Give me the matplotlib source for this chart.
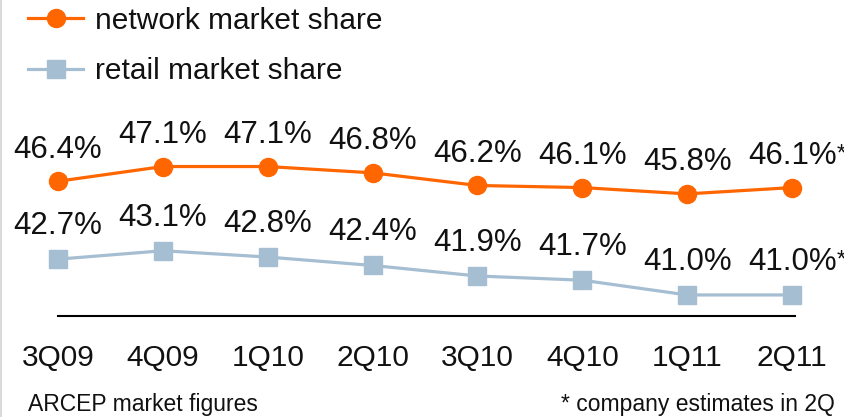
import matplotlib
matplotlib.use("Agg")
import matplotlib.pyplot as plt
from matplotlib.lines import Line2D

quarters = ["3Q09", "4Q09", "1Q10", "2Q10", "3Q10", "4Q10", "1Q11", "2Q11"]
network_share = [46.4, 47.1, 47.1, 46.8, 46.2, 46.1, 45.8, 46.1]
retail_share = [42.7, 43.1, 42.8, 42.4, 41.9, 41.7, 41.0, 41.0]
estimated = [False, False, False, False, False, False, False, True]

ORANGE = "#FF6600"
BLUE = "#A6BED2"
FONT = "Liberation Sans"
plt.rcParams["font.family"] = [FONT, "DejaVu Sans"]

W, H = 845, 417
fig = plt.figure(figsize=(W / 100, H / 100), dpi=100)
# axes placement in pixels
L, R = 5.6, 844.5
B, T = 316, 100
ax = fig.add_axes([L / W, (H - B) / H, (R - L) / W, (B - T) / H])
ax.set_xlim(-0.5, 7.5)
ax.set_ylim(40, 50.26)

x = list(range(len(quarters)))
ax.plot(x, network_share, color=ORANGE, lw=2.3, marker="o", ms=13,
        mec=ORANGE, mfc=ORANGE, clip_on=False, label="network market share")
ax.plot(x, retail_share, color=BLUE, lw=2.3, marker="s", ms=12.5,
        mec=BLUE, mfc=BLUE, clip_on=False, label="retail market share")

for series, off in ((network_share, 17), (retail_share, 18)):
    for i, v in enumerate(series):
        t = ax.annotate(f"{v:.1f}%", xy=(i, v), xytext=(0, off),
                        textcoords="offset points", ha="center", va="baseline",
                        fontsize=22.5, color="#111111")
        if estimated[i]:
            ax.annotate("*", xy=(1, 1), xycoords=t, xytext=(0, -2),
                        textcoords="offset points", ha="left", va="top",
                        fontsize=17, color="#111111")

for s in ("top", "left", "right"):
    ax.spines[s].set_visible(False)
ax.spines["bottom"].set_bounds(0, 7.03)
ax.spines["bottom"].set_linewidth(1.5)
ax.spines["bottom"].set_color("black")
ax.set_yticks([])
ax.set_xticks(x)
ax.set_xticklabels(quarters, fontsize=21.5, color="#111111")
ax.tick_params(axis="x", length=0, pad=20)
ax.patch.set_visible(False)

leg = fig.legend(handles=[
    Line2D([], [], color=ORANGE, lw=2.3, marker="o", ms=13),
    Line2D([], [], color=BLUE, lw=2.3, marker="s", ms=12.5)],
    labels=["network market share", "retail market share"],
    loc="upper left", bbox_to_anchor=(16 / W, 1 + 5 / H), frameon=False,
    fontsize=21.5, handlelength=1.85, handletextpad=0.4, labelspacing=0.75,
    borderaxespad=0, labelcolor="#111111")

fig.text(28 / W, (H - 411) / H, "ARCEP market figures", fontsize=16.5,
         ha="left", va="baseline", color="#111111")
fig.text(835 / W, (H - 411) / H, "* company estimates in 2Q", fontsize=16.5,
         ha="right", va="baseline", color="#111111")

fig.add_artist(Line2D([1 / W, 1 / W], [0, 1], color="#DADADA", lw=1.5,
                      transform=fig.transFigure))

fig.savefig("out.png", dpi=100)
